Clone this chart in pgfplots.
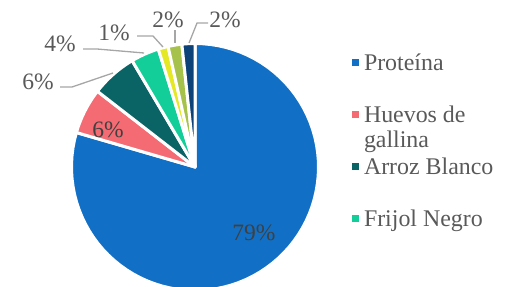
\documentclass[border=0pt]{standalone}
\usepackage{pgfplots}
\pgfplotsset{compat=1.18}
\usepackage{fontspec}
\setmainfont{Liberation Serif}
\definecolor{pblue}{HTML}{1170C6}
\definecolor{psalmon}{HTML}{F46B73}
\definecolor{pdteal}{HTML}{0A6465}
\definecolor{pteal}{HTML}{14CE9A}
\definecolor{pyellow}{HTML}{E5E825}
\definecolor{pgreen}{HTML}{A6C24A}
\definecolor{pnavy}{HTML}{0D4278}
\definecolor{lblin}{HTML}{404040}
\definecolor{lblout}{HTML}{595959}
\definecolor{leader}{HTML}{A6A6A6}
\newcommand\huevos{\begin{tabular}[t]{@{}l@{}}Huevos de\\gallina\end{tabular}}
\begin{document}
\begin{tikzpicture}
\begin{axis}[
  x=1bp, y=1bp, xmin=-195, xmax=317, ymin=-120, ymax=167,
  hide axis, clip=false, at={(0,0)}, anchor=south west,
  legend entries={Proteína,{\huevos},Arroz Blanco,Frijol Negro},
  legend cell align=left,
  legend image code/.code={\fill[#1,draw=none] (0bp,4.5bp) rectangle (7bp,11.5bp);},
  legend style={at={(axis cs:157,114)}, anchor=north west, draw=none, fill=none,
    inner sep=0pt, outer sep=0pt, row sep=30bp, text=lblout,
    font=\fontsize{23.9bp}{25bp}\selectfont,
    nodes={inner sep=0pt, inner xsep=5bp, text height=17bp, text depth=5bp, anchor=base west}},
]
\def\astart{90}
\pgfplotsforeachungrouped \v/\c in {79.5/pblue, 6.0/psalmon, 6.0/pdteal, 3.7/pteal, 1.3/pyellow, 1.8/pgreen, 1.7/pnavy}{%
  \pgfmathsetmacro\aend{\astart-3.6*\v}%
  \edef\doplot{\noexpand\addplot[fill=\c, draw=white, line width=3bp, line join=round, domain=\aend:\astart, samples=80, variable=\noexpand\t] ({123.5*cos(\noexpand\t)},{123.5*sin(\noexpand\t)}) -- (axis cs:0,0) -- cycle;}%
  \doplot
  \let\astart\aend
}
% leader lines
\draw[leader, line width=1.3bp] (axis cs:-135,80) -- (axis cs:-123,80) -- (axis cs:-82,94);
\draw[leader, line width=1.3bp] (axis cs:-112,118) -- (axis cs:-98,118) -- (axis cs:-51,114);
\draw[leader, line width=1.3bp] (axis cs:-58,131) -- (axis cs:-42,131) -- (axis cs:-32,120);
\draw[leader, line width=1.3bp] (axis cs:-20,137) -- (axis cs:-20,124);
\draw[leader, line width=1.3bp] (axis cs:13,144) -- (axis cs:2,144) -- (axis cs:-6,124);
% labels
\begin{scope}[every node/.style={font=\fontsize{23.5bp}{25bp}\selectfont, inner sep=0pt}]
\node[text=lblin] at (axis cs:59,-66) {79\%};
\node[text=lblin] at (axis cs:-87,37) {6\%};
\node[text=lblout] at (axis cs:-157,85) {6\%};
\node[text=lblout] at (axis cs:-135,123) {4\%};
\node[text=lblout] at (axis cs:-81,134) {1\%};
\node[text=lblout] at (axis cs:-27,147) {2\%};
\node[text=lblout] at (axis cs:30,147) {2\%};
\end{scope}
\end{axis}
\pgfresetboundingbox
\useasboundingbox (0,0) rectangle (512bp,287bp);
\end{tikzpicture}
\end{document}
